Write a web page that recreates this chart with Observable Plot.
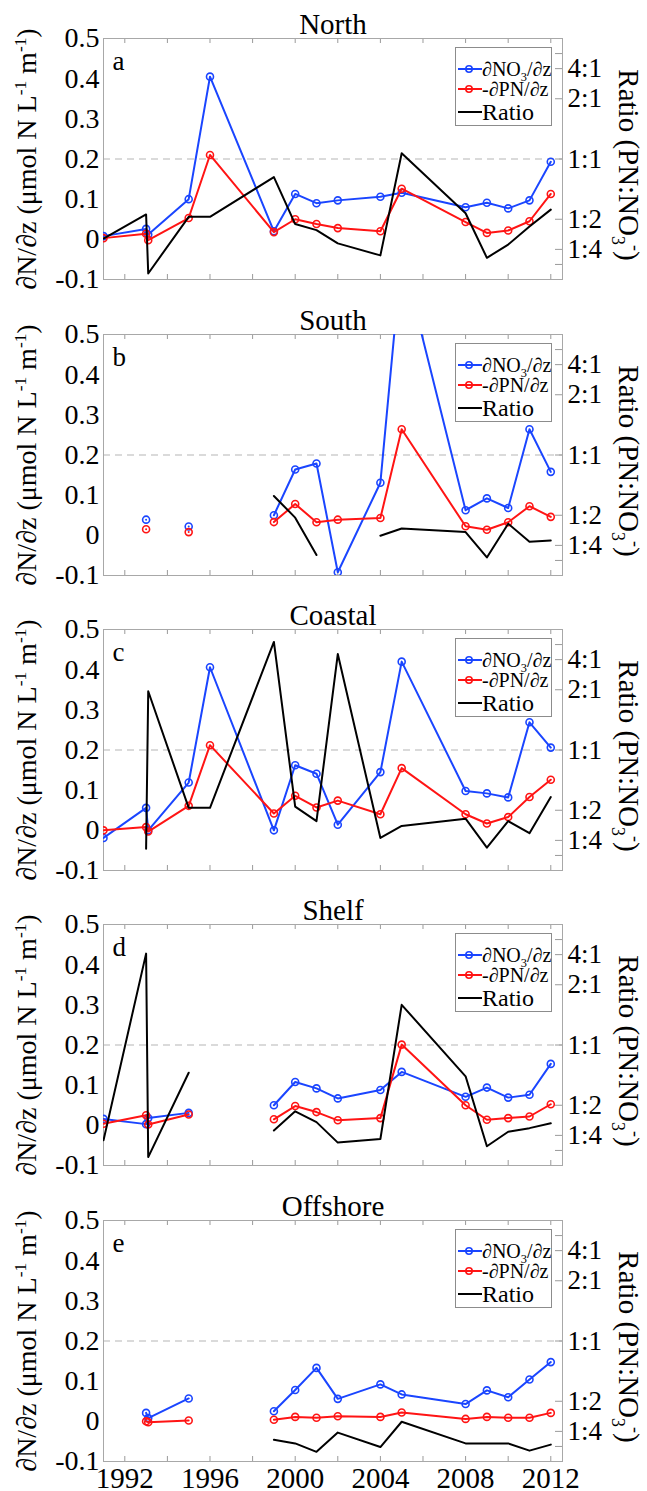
<!DOCTYPE html>
<html>
<head>
<meta charset="utf-8">
<script src="https://cdn.jsdelivr.net/npm/d3@7"></script>
<script src="https://cdn.jsdelivr.net/npm/@observablehq/plot@0.6"></script>
<style>
  body { margin: 0; background: #fff; }
  #chart { position: relative; width: 647px; height: 1491px; overflow: hidden; background: #fff; }
  #chart text { font-family: "Liberation Serif", "Times New Roman", "DejaVu Serif", serif; }
  .panel { position: absolute; left: 0; }
  .legend { position: absolute; }
</style>
</head>
<body>
<div id="chart"></div>
<script>
// ---------------- data ----------------
const years = [1991, 1993, 1993.1, 1995, 1996, 1999, 2000, 2001, 2002, 2004, 2005, 2008, 2009, 2010, 2011, 2012];

const panelNames = ["North", "South", "Coastal", "Shelf", "Offshore"];
const panelLetters = ["a", "b", "c", "d", "e"];

// dNO3/dz (µmol N L-1 m-1)
const no3North    = [0.008, 0.026, 0.012, 0.100, 0.405, 0.020, 0.113, 0.090, 0.097, 0.106, 0.116, 0.080, 0.091, 0.077, 0.097, 0.193];
const no3South    = [null, 0.039, null, 0.022, null, 0.050, 0.164, 0.179, -0.092, 0.131, 0.700, 0.0625, 0.092, 0.068, 0.264, 0.158];
const no3Coastal  = [-0.019, 0.056, 0.000, 0.119, 0.406, 0.000, 0.162, 0.141, 0.014, 0.145, 0.420, 0.098, 0.092, 0.082, 0.269, 0.206];
const no3Shelf    = [0.016, 0.003, 0.018, 0.031, null, 0.050, 0.108, 0.092, 0.067, 0.088, 0.133, 0.071, 0.094, 0.069, 0.076, 0.153];
const no3Offshore = [null, 0.021, 0.008, 0.057, null, 0.025, 0.078, 0.133, 0.056, 0.092, 0.067, 0.043, 0.077, 0.060, 0.104, 0.1475];

// -dPN/dz
const pnNorth    = [0.003, 0.014, -0.002, 0.053, 0.210, 0.018, 0.050, 0.038, 0.028, 0.020, 0.126, 0.043, 0.016, 0.022, 0.045, 0.113];
const pnSouth    = [null, 0.015, null, 0.008, null, 0.033, 0.078, 0.0325, 0.039, 0.043, 0.264, 0.0225, 0.014, 0.0325, 0.0725, 0.046];
const pnCoastal  = [0.000, 0.008, -0.003, 0.061, 0.212, 0.042, 0.086, 0.057, 0.074, 0.040, 0.155, 0.040, 0.017, 0.033, 0.083, 0.126];
const pnShelf    = [0.004, 0.025, 0.002, 0.027, null, 0.015, 0.048, 0.033, 0.0125, 0.018, 0.201, 0.050, 0.014, 0.018, 0.022, 0.0525];
const pnOffshore = [null, 0.000, -0.002, 0.002, null, 0.004, 0.011, 0.009, 0.0125, 0.011, 0.022, 0.006, 0.011, 0.009, 0.009, 0.021];

// Ratio PN:NO3 (plain ratio values)
const ratioNorth    = [0.34, 0.54, 0.05, 0.52, 0.52, 0.85, 0.46, 0.41, 0.30, 0.20, 1.05, 0.55, 0.18, 0.29, 0.44, 0.58];
const ratioSouth    = [null, null, null, null, null, 0.66, 0.48, 0.17, null, 0.33, 0.39, 0.36, 0.15, 0.43, 0.28, 0.29];
const ratioCoastal  = [null, 0.18, 1.95, 0.52, 0.52, 9.7, 0.53, 0.41, 4.9, 0.27, 0.37, 0.43, 0.19, 0.41, 0.31, 0.61];
const ratioShelf    = [0.21, 4.14, 0.07, 0.77, null, 0.29, 0.45, 0.36, 0.19, 0.22, 1.5, 0.74, 0.16, 0.28, 0.31, 0.35];
const ratioOffshore = [null, null, null, null, null, 0.18, 0.15, 0.08, 0.24, 0.12, 0.33, 0.15, 0.15, 0.15, 0.09, 0.14];

// axis ticks
const yTickValues = [-0.1, 0, 0.1, 0.2, 0.3, 0.4, 0.5];
const xTickYears = [1992, 1994, 1996, 1998, 2000, 2002, 2004, 2006, 2008, 2010, 2012];
const xLabelYears = [1992, 1996, 2000, 2004, 2008, 2012];
const ratioTickValues = [8, 4, 2, 1, 0.5, 0.25, 0.125];
const ratioTickLabels = ["", "4:1", "2:1", "1:1", "1:2", "1:4", ""];

const yLabelParts = [["∂N/∂z (μmol N L", ""], ["-1", "sup"], [" m", ""], ["-1", "sup"], [")", ""]];
const rLabelParts = [["Ratio (PN:NO", ""], ["3", "sub"], ["-", "sup"], [")", ""]];
const legendLabels = ["∂NO|3|/∂z", "-∂PN/∂z", "Ratio"];

// ---------------- drawing ----------------
const BLUE = "#1a45ff", RED = "#ff1414", BLACK = "#000";
const FONT = "'Liberation Serif', 'Times New Roman', 'DejaVu Serif', serif";

// right-axis transform: ratio r -> left-axis units (1:1 at 0.2, r->inf at 0.5, r->0 at -0.1)
const ratioToY = r => r >= 1 ? 0.2 + 0.3 * (1 - 1 / r) : 0.2 - 0.3 * (1 - r);

const panels = [
  {no3: no3North, pn: pnNorth, ratio: ratioNorth},
  {no3: no3South, pn: pnSouth, ratio: ratioSouth},
  {no3: no3Coastal, pn: pnCoastal, ratio: ratioCoastal},
  {no3: no3Shelf, pn: pnShelf, ratio: ratioShelf},
  {no3: no3Offshore, pn: pnOffshore, ratio: ratioOffshore}
];

const W = 647, FL = 103, FR = 562, FH = 241, MT = 38;
const frameTops = [38, 334, 629, 924, 1220];
const chart = document.getElementById("chart");

const plainOf = parts => parts.map(p => p[0]).join("");
const yLabel = plainOf(yLabelParts);
const rLabel = plainOf(rLabelParts);

const labelled = ratioTickValues.map((r, k) => ({pos: ratioToY(r), label: ratioTickLabels[k]})).filter(d => d.label);
const labelMap = new Map(labelled.map(d => [d.pos, d.label]));

function richify(svgNode, plain, parts, supShift, subShift) {
  d3.select(svgNode).selectAll("text")
    .filter(function () { return this.textContent === plain; })
    .each(function () {
      const t = d3.select(this);
      t.text(null);
      let cur = 0;
      parts.forEach(([s, k]) => {
        const target = k === "sup" ? -supShift : k === "sub" ? subShift : 0;
        const ts = t.append("tspan").text(s).attr("dy", target - cur);
        if (k) ts.attr("font-size", "62%");
        cur = target;
      });
    });
}

panels.forEach((p, i) => {
  const last = i === panels.length - 1;
  const mb = last ? 1491 - frameTops[i] - FH : 20;
  const rows = years.map((yr, j) => ({
    year: yr,
    no3: p.no3[j],
    pn: p.pn[j],
    ratio: p.ratio[j] == null ? null : ratioToY(p.ratio[j])
  }));

  const marks = [
    Plot.ruleY([0.2], {stroke: "#b5b5b5", strokeDasharray: "7,5", strokeWidth: 1}),
    Plot.tickX(xTickYears, {x: d => d, insetBottom: FH - 5, stroke: "#9a9a9a"}),
    Plot.tickX(xTickYears, {x: d => d, insetTop: FH - 5, stroke: "#9a9a9a"}),
    Plot.tickY(ratioTickValues, {y: d => ratioToY(d), insetLeft: (FR - FL) - 7, stroke: "#9a9a9a"}),
    Plot.frame({stroke: "#a8a8a8"}),
    Plot.axisY({anchor: "left", ticks: yTickValues, tickFormat: d => d === 0 ? "0" : String(d),
      tickSize: 0, tickPadding: 4, fontSize: 28, fontFamily: FONT, label: null}),
    Plot.axisY({anchor: "right", ticks: labelled.map(d => d.pos), tickFormat: d => labelMap.get(d),
      tickSize: 0, tickPadding: 5, fontSize: 27, fontFamily: FONT, label: null}),
    Plot.line(rows, {x: "year", y: "no3", stroke: BLUE, strokeWidth: 2, clip: true}),
    Plot.dot(rows, {x: "year", y: "no3", r: 3.5, stroke: BLUE, strokeWidth: 1.6, fill: "none", clip: true}),
    Plot.line(rows, {x: "year", y: "pn", stroke: RED, strokeWidth: 2, clip: true}),
    Plot.dot(rows, {x: "year", y: "pn", r: 3.5, stroke: RED, strokeWidth: 1.6, fill: "none", clip: true}),
    Plot.line(rows, {x: "year", y: "ratio", stroke: BLACK, strokeWidth: 2, clip: true}),
    Plot.text([panelNames[i]], {text: d => d, frameAnchor: "top", textAnchor: "middle", lineAnchor: "middle", dy: -14, fontSize: 29, fontFamily: FONT}),
    Plot.text([panelLetters[i]], {text: d => d, frameAnchor: "top-left", textAnchor: "start", lineAnchor: "middle", dx: 9, dy: 23, fontSize: 27, fontFamily: FONT}),
    Plot.text([yLabel], {text: d => d, frameAnchor: "left", textAnchor: "middle", lineAnchor: "middle", rotate: -90, dx: -76, fontSize: 28, fontFamily: FONT}),
    Plot.text([rLabel], {text: d => d, frameAnchor: "right", textAnchor: "middle", lineAnchor: "middle", rotate: 90, dx: 66, dy: 6, fontSize: 29, fontFamily: FONT})
  ];
  if (last) {
    marks.push(Plot.axisX({ticks: xLabelYears, tickFormat: d => String(d), tickSize: 0, tickPadding: 6, fontSize: 29, fontFamily: FONT, label: null}));
  }

  const svg = Plot.plot({
    width: W,
    height: MT + FH + mb,
    marginLeft: FL,
    marginRight: W - FR,
    marginTop: MT,
    marginBottom: mb,
    x: {domain: [1991, 2012.55], axis: last ? undefined : null},
    y: {domain: [-0.1, 0.5]},
    style: {fontFamily: FONT, color: "black", background: "transparent", overflow: "visible"},
    marks
  });
  richify(svg, yLabel, yLabelParts, 10, 6);
  richify(svg, rLabel, rLabelParts, 11, 7);

  const holder = document.createElement("div");
  holder.className = "panel";
  holder.style.top = (frameTops[i] - MT) + "px";
  holder.appendChild(svg);
  chart.appendChild(holder);

  // legend
  const leg = document.createElement("div");
  leg.className = "legend";
  leg.style.left = "455px";
  leg.style.top = (frameTops[i] + 9) + "px";
  chart.appendChild(leg);
  const ls = d3.select(leg).append("svg").attr("width", 98).attr("height", 80)
    .style("font-family", FONT).style("display", "block");
  ls.append("rect").attr("x", 0.5).attr("y", 0.5).attr("width", 96).attr("height", 78)
    .attr("fill", "white").attr("stroke", "#8c8c8c");
  const rowsLeg = [
    {color: BLUE, dot: true, y: 22, size: 20},
    {color: RED, dot: true, y: 42, size: 20},
    {color: BLACK, dot: false, y: 65, size: 24}
  ];
  rowsLeg.forEach((r, k) => {
    ls.append("line").attr("x1", 3).attr("x2", 27).attr("y1", r.y).attr("y2", r.y)
      .attr("stroke", r.color).attr("stroke-width", 2);
    if (r.dot) ls.append("circle").attr("cx", 14).attr("cy", r.y).attr("r", 3.2)
      .attr("fill", "none").attr("stroke", r.color).attr("stroke-width", 1.6);
    const t = ls.append("text").attr("x", 27).attr("y", r.y + r.size * 0.33).attr("font-size", r.size);
    const segs = legendLabels[k].split("|");
    if (segs.length === 3) {
      t.append("tspan").text(segs[0]);
      t.append("tspan").text(segs[1]).attr("font-size", "62%").attr("dy", 5);
      t.append("tspan").text(segs[2]).attr("dy", -5);
    } else {
      t.text(segs[0]);
    }
  });
});
</script>
</body>
</html>
